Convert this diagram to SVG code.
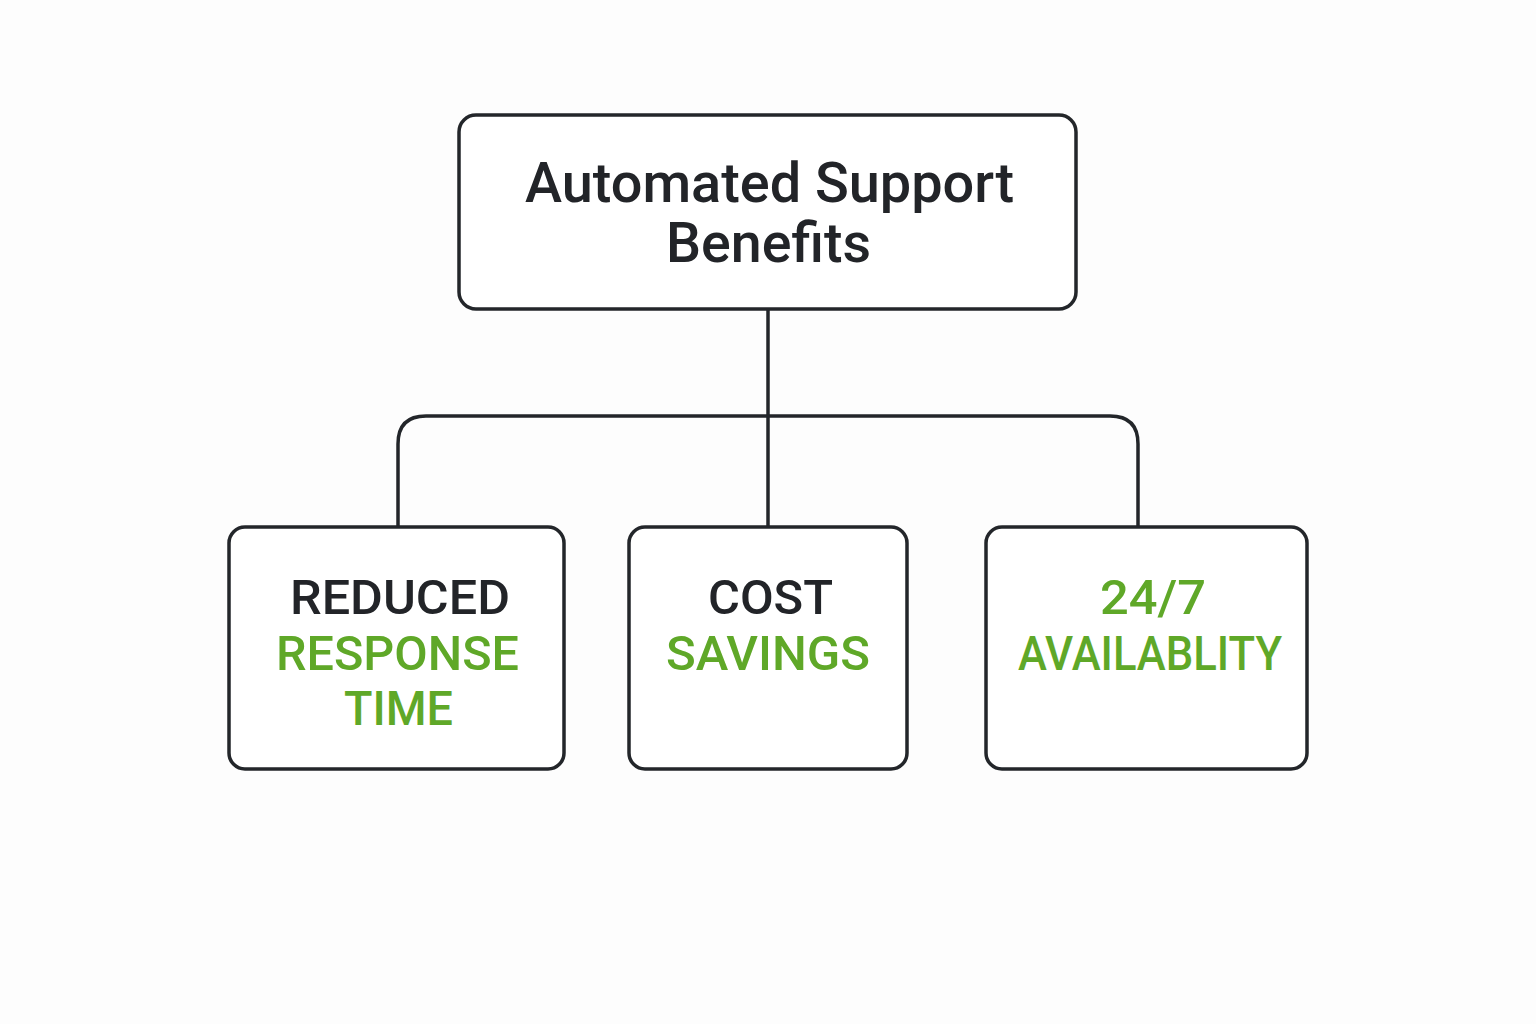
<svg xmlns="http://www.w3.org/2000/svg" width="1536" height="1024" viewBox="0 0 1536 1024">
<style>
.box{fill:#fff;stroke:#23262a;stroke-width:3.5}
.conn{fill:none;stroke:#23262a;stroke-width:3.5}
.t{font-family:Roboto,"Liberation Sans",sans-serif;font-weight:500;text-anchor:middle}
.dark{fill:#222428}
.green{fill:#5fa828}
</style>
<rect width="1536" height="1024" fill="#fdfdfd"/>
<g id="connectors">
<path class="conn" d="M768 309 V527"/>
<path class="conn" d="M398 527 V444 Q398 416 426 416 H1110 Q1138 416 1138 444 V527"/>
</g>
<g id="root">
<rect class="box" x="459" y="115" width="617" height="194" rx="17"/>
<text class="t dark" x="769.5" y="202" font-size="55" textLength="489" lengthAdjust="spacingAndGlyphs">Automated Support</text>
<text class="t dark" x="768.5" y="262" font-size="55" textLength="205" lengthAdjust="spacingAndGlyphs">Benefits</text>
</g>
<g id="reduced">
<rect class="box" x="229" y="527" width="335" height="242" rx="16"/>
<text class="t dark" x="400" y="614" font-size="48" textLength="220" lengthAdjust="spacingAndGlyphs">REDUCED</text>
<text class="t green" x="397.5" y="670" font-size="48" textLength="243" lengthAdjust="spacingAndGlyphs">RESPONSE</text>
<text class="t green" x="398.5" y="725" font-size="48" textLength="109" lengthAdjust="spacingAndGlyphs">TIME</text>
</g>
<g id="cost">
<rect class="box" x="629" y="527" width="278" height="242" rx="16"/>
<text class="t dark" x="770.5" y="614" font-size="48" textLength="125" lengthAdjust="spacingAndGlyphs">COST</text>
<text class="t green" x="768" y="670" font-size="48" textLength="204" lengthAdjust="spacingAndGlyphs">SAVINGS</text>
</g>
<g id="availability">
<rect class="box" x="986" y="527" width="321" height="242" rx="16"/>
<text class="t green" x="1153" y="614" font-size="48" textLength="106" lengthAdjust="spacingAndGlyphs">24/7</text>
<text class="t green" x="1150" y="670" font-size="48" textLength="264" lengthAdjust="spacingAndGlyphs">AVAILABLITY</text>
</g>
</svg>
